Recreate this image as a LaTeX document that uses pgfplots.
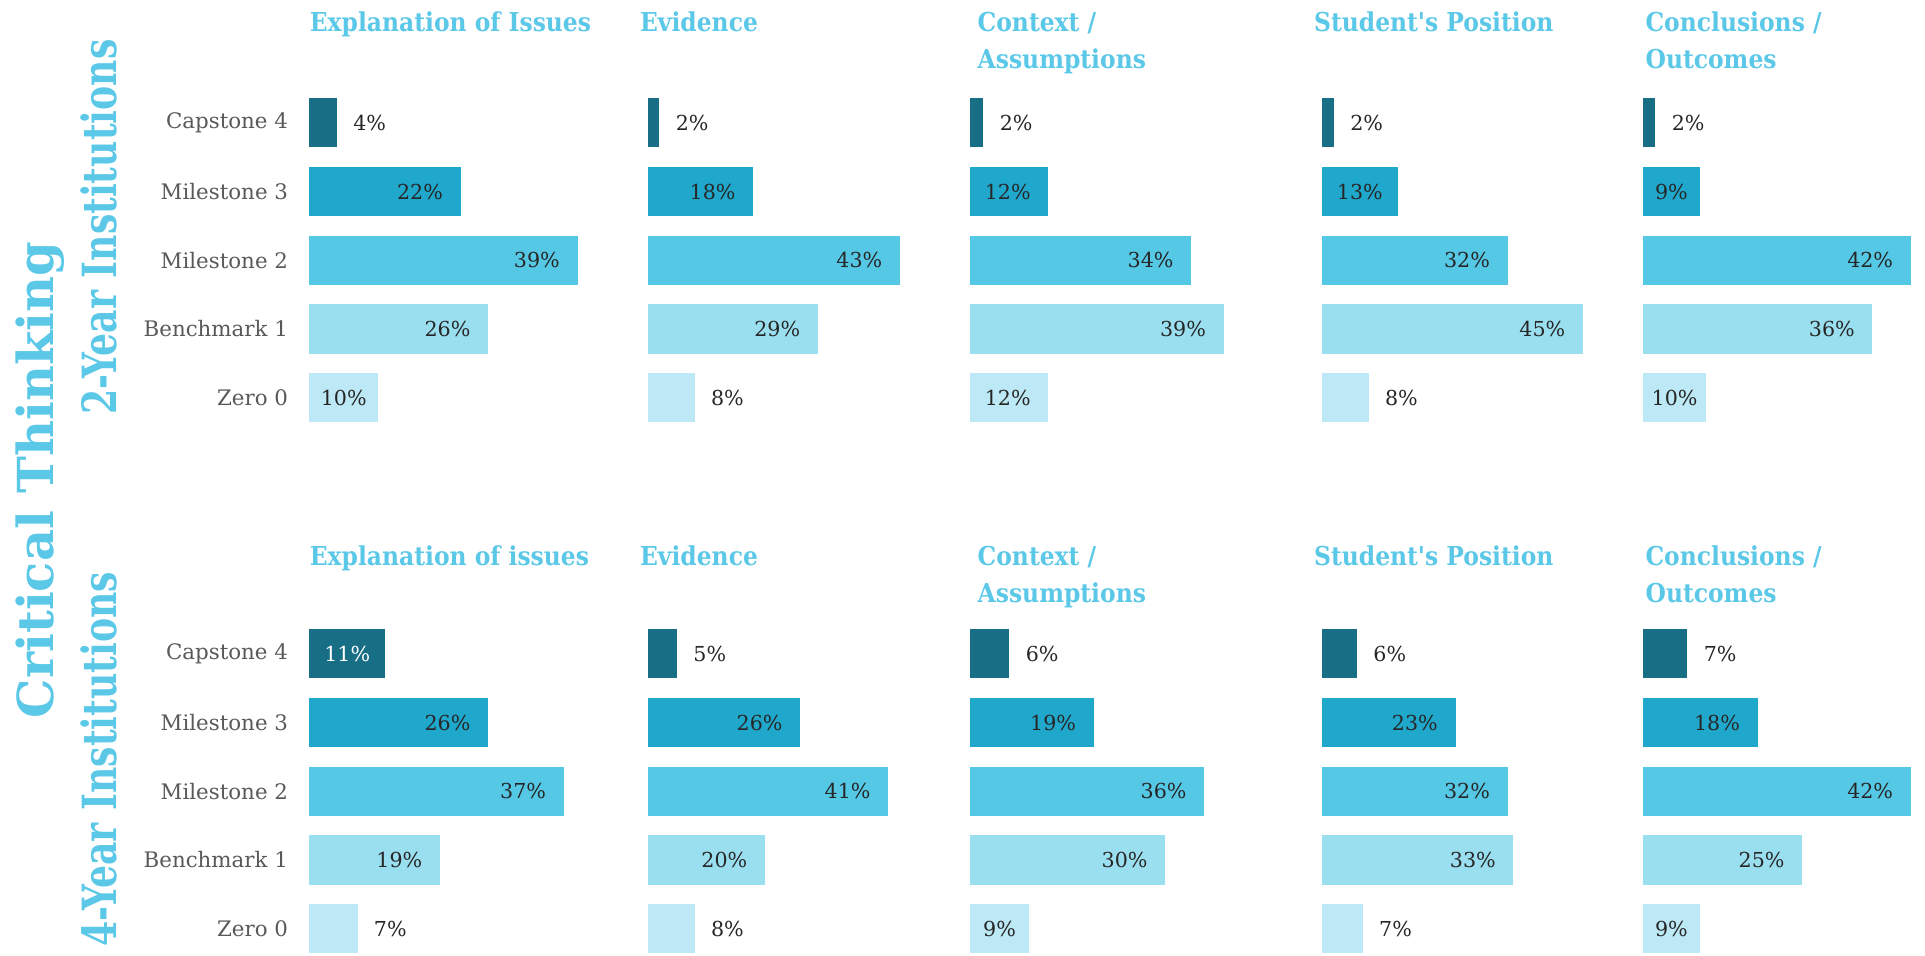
\documentclass[border=0pt]{standalone}
\usepackage{fontspec}
\setmainfont{DejaVu Serif}
\newfontfamily\condfont{DejaVu Serif Condensed}
\usepackage{pgfplots}
\pgfplotsset{compat=1.18}
\usepackage{graphicx}

\definecolor{cfour}{HTML}{176E85}
\definecolor{cthree}{HTML}{20A8CC}
\definecolor{ctwo}{HTML}{55C8E6}
\definecolor{cone}{HTML}{9ADFF0}
\definecolor{czero}{HTML}{BDE8F5}
\definecolor{ttl}{HTML}{5BC8E8}
\definecolor{lab}{HTML}{595959}
\definecolor{val}{HTML}{262626}

% one small panel of horizontal bars, #1 = pt per percent
\pgfplotsset{
  /pgf/number format/assume math mode=true,
  panel/.style={
    xbar, xmin=0, xmax=45, ymin=-0.5, ymax=4.5,
    x=#1pt, y=28pt, anchor=south west, clip=false,
    axis line style={draw=none}, major tick length=0pt,
    tick style={draw=none},
    xtick=\empty, ytick=\empty,
    bar width=20pt, point meta=x,
    every axis plot/.append style={bar shift=0pt, draw=none},
    nodes near coords={\pgfmathprintnumber{\pgfplotspointmeta}\%},
    nodes near coords style={font=\fontsize{8.4}{10}\selectfont, text=val, inner sep=0pt},
  },
  levels/.style={
    ytick={0,...,4},
    yticklabels={Zero 0, Benchmark 1, Milestone 2, Milestone 3, Capstone 4},
    yticklabel style={font=\fontsize{8.7}{10}\selectfont, text=lab, anchor=east, inner sep=0pt, xshift=-8.5pt},
  },
  li/.style={nodes near coords style={anchor=east, xshift=-7pt}},
  lo/.style={nodes near coords style={anchor=west, xshift=6.5pt}},
  lm/.style={nodes near coords style={anchor=center, xshift={-0.5*#1*\sc pt}}},
  lmw/.style={lm=#1, nodes near coords style={text=white}},
}
\tikzset{
  ptitle/.style={anchor=base west, inner sep=0pt, text=ttl, font=\condfont\bfseries\fontsize{10.6}{12}\selectfont},
}

\begin{document}
\begin{tikzpicture}
\path[use as bounding box] (0,0) rectangle (784pt,389pt);

% side titles
\node[rotate=90, text=ttl, inner sep=0pt, font=\bfseries\fontsize{20.2}{24}\selectfont] at (16.25pt,193.5pt) {Critical Thinking};
\node[rotate=90, text=ttl, inner sep=0pt, font=\condfont\bfseries\fontsize{16.4}{19}\selectfont] at (40.25pt,296.5pt) {\scalebox{1}[1.17]{2-Year Institutions}};
\node[rotate=90, text=ttl, inner sep=0pt, font=\condfont\bfseries\fontsize{16.4}{19}\selectfont] at (40.25pt,79.75pt) {\scalebox{1}[1.17]{4-Year Institutions}};

% panel titles, 2-year row
\node[ptitle] at (126pt,376pt) {Explanation of Issues};
\node[ptitle] at (260.5pt,376pt) {Evidence};
\node[ptitle] at (398pt,376pt) {Context /};
\node[ptitle] at (398pt,361.2pt) {Assumptions};
\node[ptitle] at (535pt,376pt) {Student's Position};
\node[ptitle] at (670pt,376pt) {Conclusions /};
\node[ptitle] at (670pt,361.2pt) {Outcomes};
% panel titles, 4-year row
\node[ptitle] at (126pt,158.5pt) {Explanation of issues};
\node[ptitle] at (260.5pt,158.5pt) {Evidence};
\node[ptitle] at (398pt,158.5pt) {Context /};
\node[ptitle] at (398pt,143.5pt) {Assumptions};
\node[ptitle] at (535pt,158.5pt) {Student's Position};
\node[ptitle] at (670pt,158.5pt) {Conclusions /};
\node[ptitle] at (670pt,143.5pt) {Outcomes};

% ---------- 2-Year Institutions ----------
\def\sc{2.8}
\begin{axis}[panel=\sc, levels, at={(126pt,213pt)}]
\addplot[fill=cfour, lo] coordinates {(4,4)};
\addplot[fill=cthree, li] coordinates {(22,3)};
\addplot[fill=ctwo, li] coordinates {(39,2)};
\addplot[fill=cone, li] coordinates {(26,1)};
\addplot[fill=czero, lm=10] coordinates {(10,0)};
\end{axis}

\def\sc{2.39}
\begin{axis}[panel=\sc, at={(263.75pt,213pt)}]
\addplot[fill=cfour, lo] coordinates {(2,4)};
\addplot[fill=cthree, li] coordinates {(18,3)};
\addplot[fill=ctwo, li] coordinates {(43,2)};
\addplot[fill=cone, li] coordinates {(29,1)};
\addplot[fill=czero, lo] coordinates {(8,0)};
\end{axis}

\def\sc{2.645}
\begin{axis}[panel=\sc, at={(395.2pt,213pt)}]
\addplot[fill=cfour, lo] coordinates {(2,4)};
\addplot[fill=cthree, li] coordinates {(12,3)};
\addplot[fill=ctwo, li] coordinates {(34,2)};
\addplot[fill=cone, li] coordinates {(39,1)};
\addplot[fill=czero, li] coordinates {(12,0)};
\end{axis}

\def\sc{2.36}
\begin{axis}[panel=\sc, at={(538.5pt,213pt)}]
\addplot[fill=cfour, lo] coordinates {(2,4)};
\addplot[fill=cthree, lm=13] coordinates {(13,3)};
\addplot[fill=ctwo, li] coordinates {(32,2)};
\addplot[fill=cone, li] coordinates {(45,1)};
\addplot[fill=czero, lo] coordinates {(8,0)};
\end{axis}

\def\sc{2.6}
\begin{axis}[panel=\sc, at={(669pt,213pt)}]
\addplot[fill=cfour, lo] coordinates {(2,4)};
\addplot[fill=cthree, lm=9] coordinates {(9,3)};
\addplot[fill=ctwo, li] coordinates {(42,2)};
\addplot[fill=cone, li] coordinates {(36,1)};
\addplot[fill=czero, lm=10] coordinates {(10,0)};
\end{axis}

% ---------- 4-Year Institutions ----------
\def\sc{2.8}
\begin{axis}[panel=\sc, levels, at={(126pt,-3.25pt)}]
\addplot[fill=cfour, lmw=11] coordinates {(11,4)};
\addplot[fill=cthree, li] coordinates {(26,3)};
\addplot[fill=ctwo, li] coordinates {(37,2)};
\addplot[fill=cone, li] coordinates {(19,1)};
\addplot[fill=czero, lo] coordinates {(7,0)};
\end{axis}

\def\sc{2.39}
\begin{axis}[panel=\sc, at={(263.75pt,-3.25pt)}]
\addplot[fill=cfour, lo] coordinates {(5,4)};
\addplot[fill=cthree, li] coordinates {(26,3)};
\addplot[fill=ctwo, li] coordinates {(41,2)};
\addplot[fill=cone, li] coordinates {(20,1)};
\addplot[fill=czero, lo] coordinates {(8,0)};
\end{axis}

\def\sc{2.645}
\begin{axis}[panel=\sc, at={(395.2pt,-3.25pt)}]
\addplot[fill=cfour, lo] coordinates {(6,4)};
\addplot[fill=cthree, li] coordinates {(19,3)};
\addplot[fill=ctwo, li] coordinates {(36,2)};
\addplot[fill=cone, li] coordinates {(30,1)};
\addplot[fill=czero, lm=9] coordinates {(9,0)};
\end{axis}

\def\sc{2.36}
\begin{axis}[panel=\sc, at={(538.5pt,-3.25pt)}]
\addplot[fill=cfour, lo] coordinates {(6,4)};
\addplot[fill=cthree, li] coordinates {(23,3)};
\addplot[fill=ctwo, li] coordinates {(32,2)};
\addplot[fill=cone, li] coordinates {(33,1)};
\addplot[fill=czero, lo] coordinates {(7,0)};
\end{axis}

\def\sc{2.6}
\begin{axis}[panel=\sc, at={(669pt,-3.25pt)}]
\addplot[fill=cfour, lo] coordinates {(7,4)};
\addplot[fill=cthree, li] coordinates {(18,3)};
\addplot[fill=ctwo, li] coordinates {(42,2)};
\addplot[fill=cone, li] coordinates {(25,1)};
\addplot[fill=czero, lm=9] coordinates {(9,0)};
\end{axis}
\end{tikzpicture}
\end{document}
